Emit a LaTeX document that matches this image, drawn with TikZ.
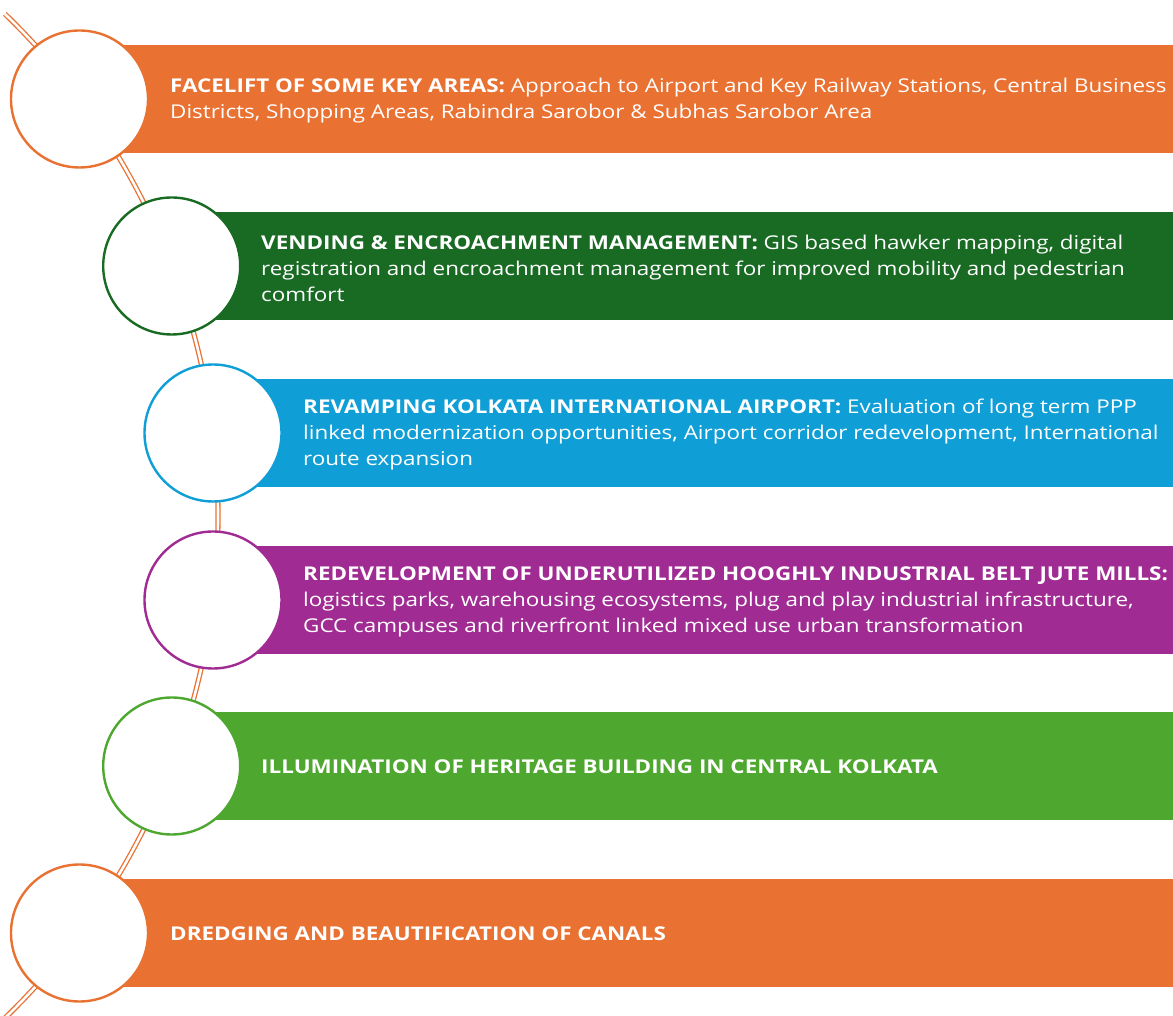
\documentclass[tikz,border=0pt]{standalone}
\usepackage{fontspec}
\setmainfont{Open Sans}[FakeStretch=1.18]
\usepackage{tikz}
\definecolor{accO}{HTML}{E97132}
\definecolor{accG}{HTML}{196B24}
\definecolor{accB}{HTML}{0F9ED5}
\definecolor{accP}{HTML}{A02B93}
\definecolor{accL}{HTML}{4EA72E}
\tikzset{
  band/.style={anchor=west, minimum height=108pt, inner sep=0pt, outer sep=0pt},
  ring/.style={circle, fill=white, line width=2.4pt, minimum size=137pt, inner sep=0pt},
  rail/.style={draw=accO, line width=1.3pt, double=white, double distance=2.6pt},
  caption/.style={anchor=west, align=left, text=white, inner sep=0pt, font=\fontsize{19}{26}\selectfont}
}
\begin{document}
\begin{tikzpicture}[x=1pt, y=1pt]
  \useasboundingbox (0,0) rectangle (1173,1015);
  \coordinate (O) at (-480,499);
  \coordinate (railtop) at ([shift={(46:698)}]O);
  \draw[rail] (railtop) arc[start angle=46, end angle=-46, radius=698pt];
  \foreach \n/\x/\y/\c in {1/79.5/916/accO, 2/171.7/749/accG, 3/213/582/accB,
                           4/213/415/accP, 5/171.7/249/accL, 6/79.5/82/accO} {
    \pgfmathsetmacro{\w}{1173-\x}
    \node[band, fill=\c, minimum width=\w pt] (b\n) at (\x,\y) {};
    \node[ring, draw=\c] (c\n) at (\x,\y) {};
  }
  \node[caption] (t1) at (170,914) {\textbf{FACELIFT OF SOME KEY AREAS:} Approach to Airport and Key Railway Stations, Central Business\\Districts, Shopping Areas, Rabindra Sarobor \& Subhas Sarobor Area};
  \node[caption] (t2) at (261,747) {\textbf{VENDING \& ENCROACHMENT MANAGEMENT:} GIS based hawker mapping, digital\\registration and encroachment management for improved mobility and pedestrian\\comfort};
  \node[caption] (t3) at (303,580) {\textbf{REVAMPING KOLKATA INTERNATIONAL AIRPORT:} Evaluation of long term PPP\\linked modernization opportunities, Airport corridor redevelopment, International\\route expansion};
  \node[caption] (t4) at (303,413) {\textbf{REDEVELOPMENT OF UNDERUTILIZED HOOGHLY INDUSTRIAL BELT JUTE MILLS:}\\logistics parks, warehousing ecosystems, plug and play industrial infrastructure,\\GCC campuses and riverfront linked mixed use urban transformation};
  \node[caption] (t5) at (261,248) {\textbf{ILLUMINATION OF HERITAGE BUILDING IN CENTRAL KOLKATA}};
  \node[caption] (t6) at (170,81) {\textbf{DREDGING AND BEAUTIFICATION OF CANALS}};
\end{tikzpicture}
\end{document}
